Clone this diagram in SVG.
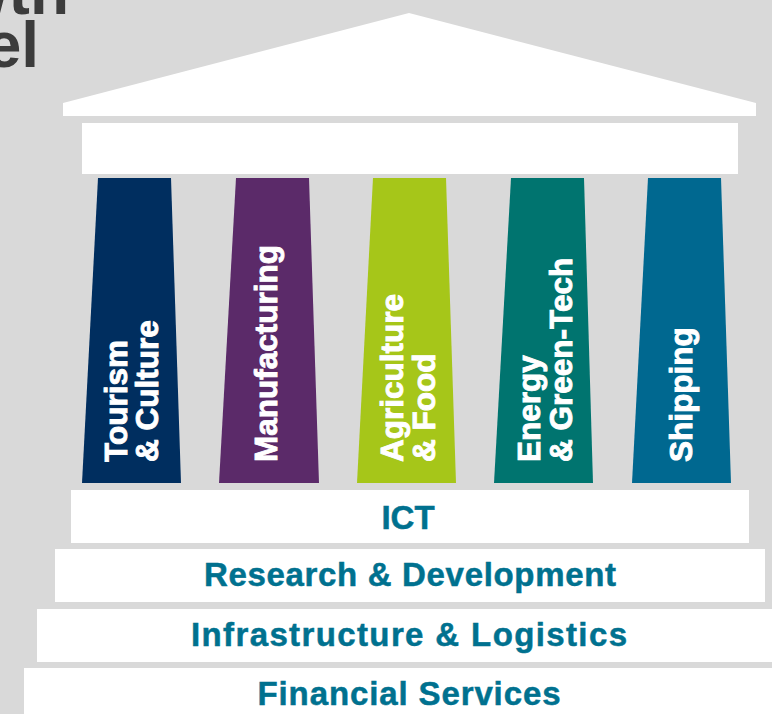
<svg xmlns="http://www.w3.org/2000/svg" width="772" height="714" viewBox="0 0 772 714">
  <style>
    .title { font-family: "Liberation Sans", Arial, sans-serif; font-weight: bold; font-size: 64px; fill: #3c3c3c; }
    .white { fill: #ffffff; }
    .col-label { font-family: "Liberation Sans", Arial, sans-serif; font-weight: bold; font-size: 31.5px; fill: #ffffff; stroke: #ffffff; stroke-width: 0.9px; }
    .step-label { font-family: "Liberation Sans", Arial, sans-serif; font-weight: bold; font-size: 33px; fill: #00718f; stroke: #00718f; stroke-width: 0.5px; text-anchor: middle; }
  </style>
  <rect x="0" y="0" width="772" height="714" fill="#d9d9d9"/>

  <g id="title">
    <text class="title" x="69" y="14" text-anchor="end">Growth</text>
    <text class="title" x="39" y="67" text-anchor="end">Model</text>
  </g>

  <g id="roof">
    <polygon class="white" points="63,103 409,13 756,103 756,116 63,116"/>
  </g>
  <g id="entablature">
    <rect class="white" x="82" y="123" width="656" height="51"/>
  </g>

  <g id="col-tourism">
    <polygon points="98,178 171,178 181,483 82,483" fill="#002e5f"/>
    <text class="col-label" transform="translate(127,462) rotate(-90)">Tourism</text>
    <text class="col-label" transform="translate(158,462) rotate(-90)">&amp; Culture</text>
  </g>
  <g id="col-manufacturing">
    <polygon points="236,178 309,178 319,483 219,483" fill="#5b2a69"/>
    <text class="col-label" transform="translate(277,462) rotate(-90)">Manufacturing</text>
  </g>
  <g id="col-agriculture">
    <polygon points="373,178 446,178 456,483 357,483" fill="#a6c619"/>
    <text class="col-label" transform="translate(403,462) rotate(-90)">Agriculture</text>
    <text class="col-label" transform="translate(435,462) rotate(-90)">&amp; Food</text>
  </g>
  <g id="col-energy">
    <polygon points="511,178 584,178 593,483 494,483" fill="#00746f"/>
    <text class="col-label" transform="translate(540,462) rotate(-90)">Energy</text>
    <text class="col-label" transform="translate(572,462) rotate(-90)">&amp; Green-Tech</text>
  </g>
  <g id="col-shipping">
    <polygon points="648,178 721,178 731,483 632,483" fill="#006890"/>
    <text class="col-label" transform="translate(692,462) rotate(-90)">Shipping</text>
  </g>

  <g id="step-ict">
    <rect class="white" x="71" y="490" width="678" height="53"/>
    <text class="step-label" x="408" y="528.5">ICT</text>
  </g>
  <g id="step-rd">
    <rect class="white" x="55" y="549" width="710" height="53"/>
    <text class="step-label" x="410" y="586" textLength="412" lengthAdjust="spacing">Research &amp; Development</text>
  </g>
  <g id="step-infra">
    <rect class="white" x="37" y="609" width="735" height="53"/>
    <text class="step-label" x="409" y="646" textLength="436" lengthAdjust="spacing">Infrastructure &amp; Logistics</text>
  </g>
  <g id="step-finance">
    <rect class="white" x="24" y="668" width="748" height="46"/>
    <text class="step-label" x="409" y="705" textLength="303" lengthAdjust="spacing">Financial Services</text>
  </g>
  <g id="connectors"/>
</svg>
